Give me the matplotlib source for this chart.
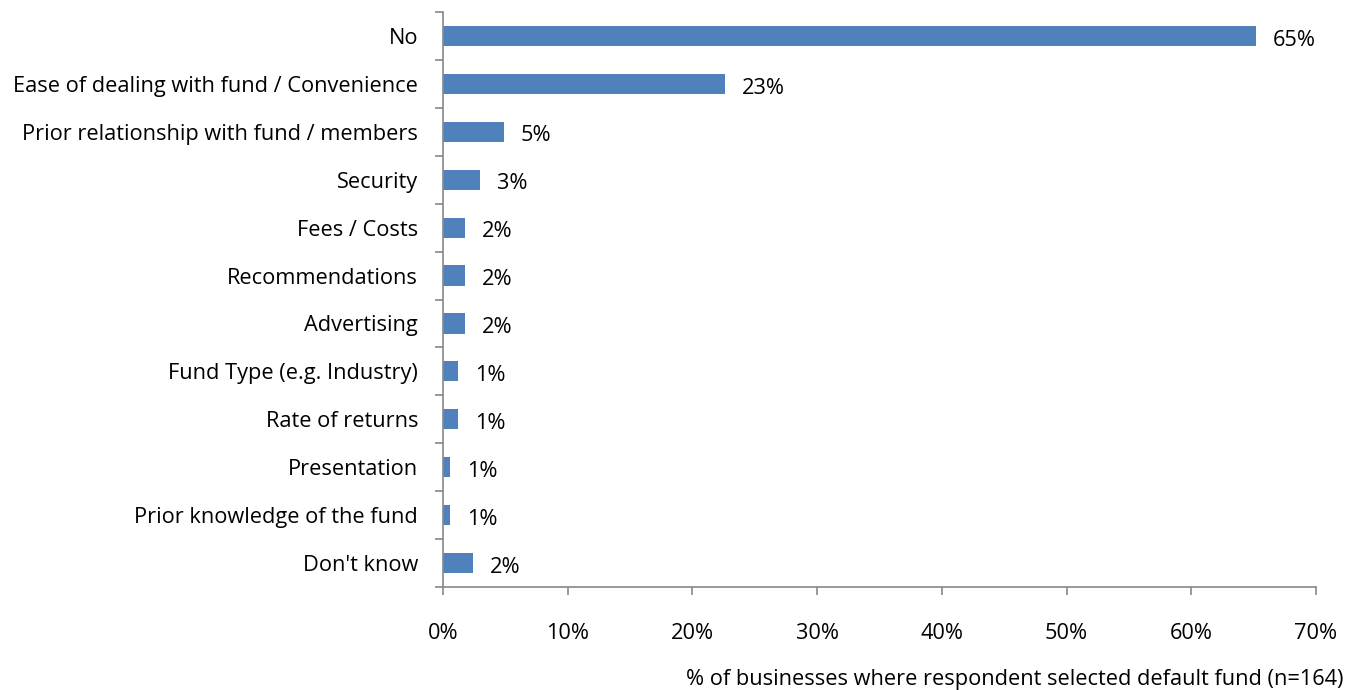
import matplotlib
matplotlib.use("Agg")
import matplotlib.pyplot as plt
import numpy as np
from matplotlib.ticker import FixedLocator, PercentFormatter

categories = ["No", "Ease of dealing with fund / Convenience", "Prior relationship with fund / members",
              "Security", "Fees / Costs", "Recommendations", "Advertising", "Fund Type (e.g. Industry)",
              "Rate of returns", "Presentation", "Prior knowledge of the fund", "Don't know"]
values = [65.2, 22.6, 4.9, 3.0, 1.8, 1.8, 1.8, 1.2, 1.2, 0.6, 0.6, 2.4]
value_labels = ["65%", "23%", "5%", "3%", "2%", "2%", "2%", "1%", "1%", "1%", "1%", "2%"]
xticks = [0, 10, 20, 30, 40, 50, 60, 70]
xlabel = "% of businesses where respondent selected default fund (n=164)"

FS = 15.7
plt.rcParams['font.family'] = ['Open Sans', 'DejaVu Sans']
fig = plt.figure(figsize=(13.46, 6.9), dpi=100)
ax = fig.add_axes([443/1346, 1-587/690, (1316-443)/1346, (587-12)/690])

n = len(categories)
y = np.arange(n)
ax.barh(y, values, height=0.42, color="#4F81BD")
ax.set_ylim(n - 0.5, -0.5)
ax.set_xlim(0, 70)

for yi, v, lab in zip(y, values, value_labels):
    ax.annotate(lab, (v, yi), xytext=(12, -3), textcoords="offset points",
                va="center", ha="left", fontsize=FS, color="black")

ax.set_yticks(y)
ax.set_yticklabels(categories, fontsize=FS)
ax.yaxis.set_minor_locator(FixedLocator(np.arange(-0.5, n, 1.0)))
ax.tick_params(axis="y", which="major", length=0, pad=18)
ax.tick_params(axis="y", which="minor", length=6, color="#888888", width=1.2)

ax.set_xticks(xticks)
ax.xaxis.set_major_formatter(PercentFormatter(decimals=0))
ax.tick_params(axis="x", which="major", length=6, color="#888888", width=1.2, pad=20, labelsize=FS)

for s in ["top", "right"]:
    ax.spines[s].set_visible(False)
for s in ["left", "bottom"]:
    ax.spines[s].set_color("#888888")
    ax.spines[s].set_linewidth(1.2)

fig.text(1343/1346, 1-680/690, xlabel, ha="right", va="center", fontsize=FS)

fig.savefig("out.png", dpi=100)
